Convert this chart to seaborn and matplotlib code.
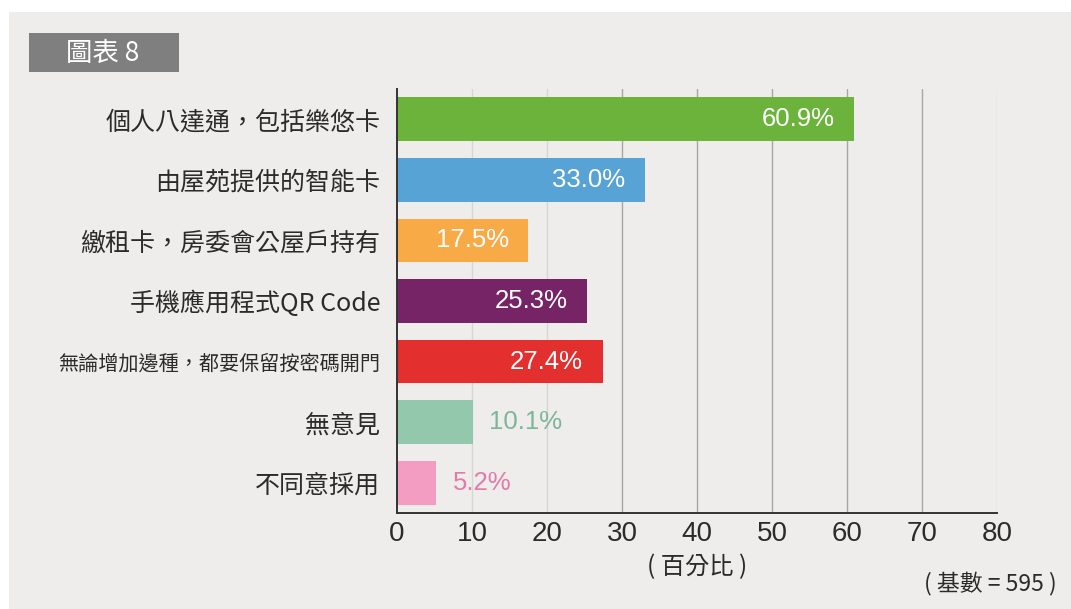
import matplotlib
matplotlib.use('Agg')
import matplotlib.pyplot as plt
from matplotlib.patches import Rectangle
import seaborn as sns
import pandas as pd

# chart data
categories = [
    '個人八達通，包括樂悠卡',
    '由屋苑提供的智能卡',
    '繳租卡，房委會公屋戶持有',
    '手機應用程式QR Code',
    '無論增加邊種，都要保留按密碼開門',
    '無意見',
    '不同意採用',
]
values = [60.9, 33.0, 17.5, 25.3, 27.4, 10.1, 5.2]
value_labels = ['60.9%', '33.0%', '17.5%', '25.3%', '27.4%', '10.1%', '5.2%']
x_ticks = [0, 10, 20, 30, 40, 50, 60, 70, 80]

bar_colors = ['#6cb33c', '#58a3d5', '#f7aa46', '#772466', '#e3302f', '#93c8ad', '#f29dc1']
outside_colors = ['#6cb33c', '#58a3d5', '#f7aa46', '#772466', '#e3302f', '#7db697', '#e27aaa']

sns.set_theme(style='white')
plt.rcParams['font.family'] = ['Noto Sans CJK TC', 'DejaVu Sans']

W, H = 1071, 609
fig = plt.figure(figsize=(W / 100, H / 100), dpi=100)
fig.patch.set_facecolor('white')

# light gray panel behind everything
fig.patches.append(Rectangle((9 / W, 0), 1 - 9 / W, 1 - 12 / H,
                             transform=fig.transFigure, facecolor='#eeedeb',
                             edgecolor='none', zorder=-10))
# title box
fig.patches.append(Rectangle((29 / W, 1 - 72 / H), 150 / W, 39 / H,
                             transform=fig.transFigure, facecolor='#7f7f7f',
                             edgecolor='none', zorder=-5))
fig.text(103 / W, 1 - 53 / H, '圖表 8', color='white', fontsize=19,
         ha='center', va='center')

ax = fig.add_axes([397 / W, 1 - 513 / H, 600 / W, 424 / H])
ax.set_facecolor('none')

df = pd.DataFrame({'category': categories, 'value': values})
sns.barplot(data=df, x='value', y='category', hue='category',
            palette=bar_colors, saturation=1, width=0.72, legend=False,
            orient='h', linewidth=0, ax=ax, zorder=3)

ax.set_xlim(0, 80)
ax.set_ylim(6.5, -0.5)

# vertical grid lines
for xv in x_ticks[1:]:
    c = '#d6d6d6' if xv in (10, 20, 80) else '#a6a6a6'
    ax.axvline(xv, color=c, lw=1, zorder=1)

for side in ['top', 'right']:
    ax.spines[side].set_visible(False)
for side in ['left', 'bottom']:
    ax.spines[side].set_color('#333333')
    ax.spines[side].set_linewidth(1.4)
    ax.spines[side].set_zorder(4)

ax.set_xticks(x_ticks)
ax.set_xticklabels([str(t) for t in x_ticks], fontsize=20,
                   family='Liberation Sans', color='#2b2b2b')
ax.tick_params(axis='x', length=0, pad=6)
ax.tick_params(axis='y', length=0, pad=12)

for lab in ax.get_yticklabels():
    lab.set_color('#2b2b2b')
    lab.set_fontsize(14.5 if len(lab.get_text()) > 14 else 18)

ax.set_ylabel('')
ax.set_xlabel('( 百分比 )', fontsize=17.5, color='#2b2b2b', labelpad=5)

# value labels: inside bar when long enough, outside otherwise
for i, cont in enumerate(ax.containers):
    for bar in cont:
        w = bar.get_width()
        yc = bar.get_y() + bar.get_height() / 2
        if w > 15:
            ax.annotate(value_labels[i], xy=(w, yc), xytext=(-14, 0),
                        textcoords='offset points', ha='right', va='center',
                        color='white', fontsize=18.5, family='Liberation Sans',
                        zorder=5)
        else:
            ax.annotate(value_labels[i], xy=(w, yc), xytext=(12, 0),
                        textcoords='offset points', ha='left', va='center',
                        color=outside_colors[i], fontsize=18.5,
                        family='Liberation Sans', zorder=5)

fig.text(1057 / W, 1 - 583 / H, '( 基數 = 595 )', fontsize=16.5,
         color='#2b2b2b', ha='right', va='center')

fig.savefig('out.png', dpi=100, facecolor=fig.get_facecolor())
